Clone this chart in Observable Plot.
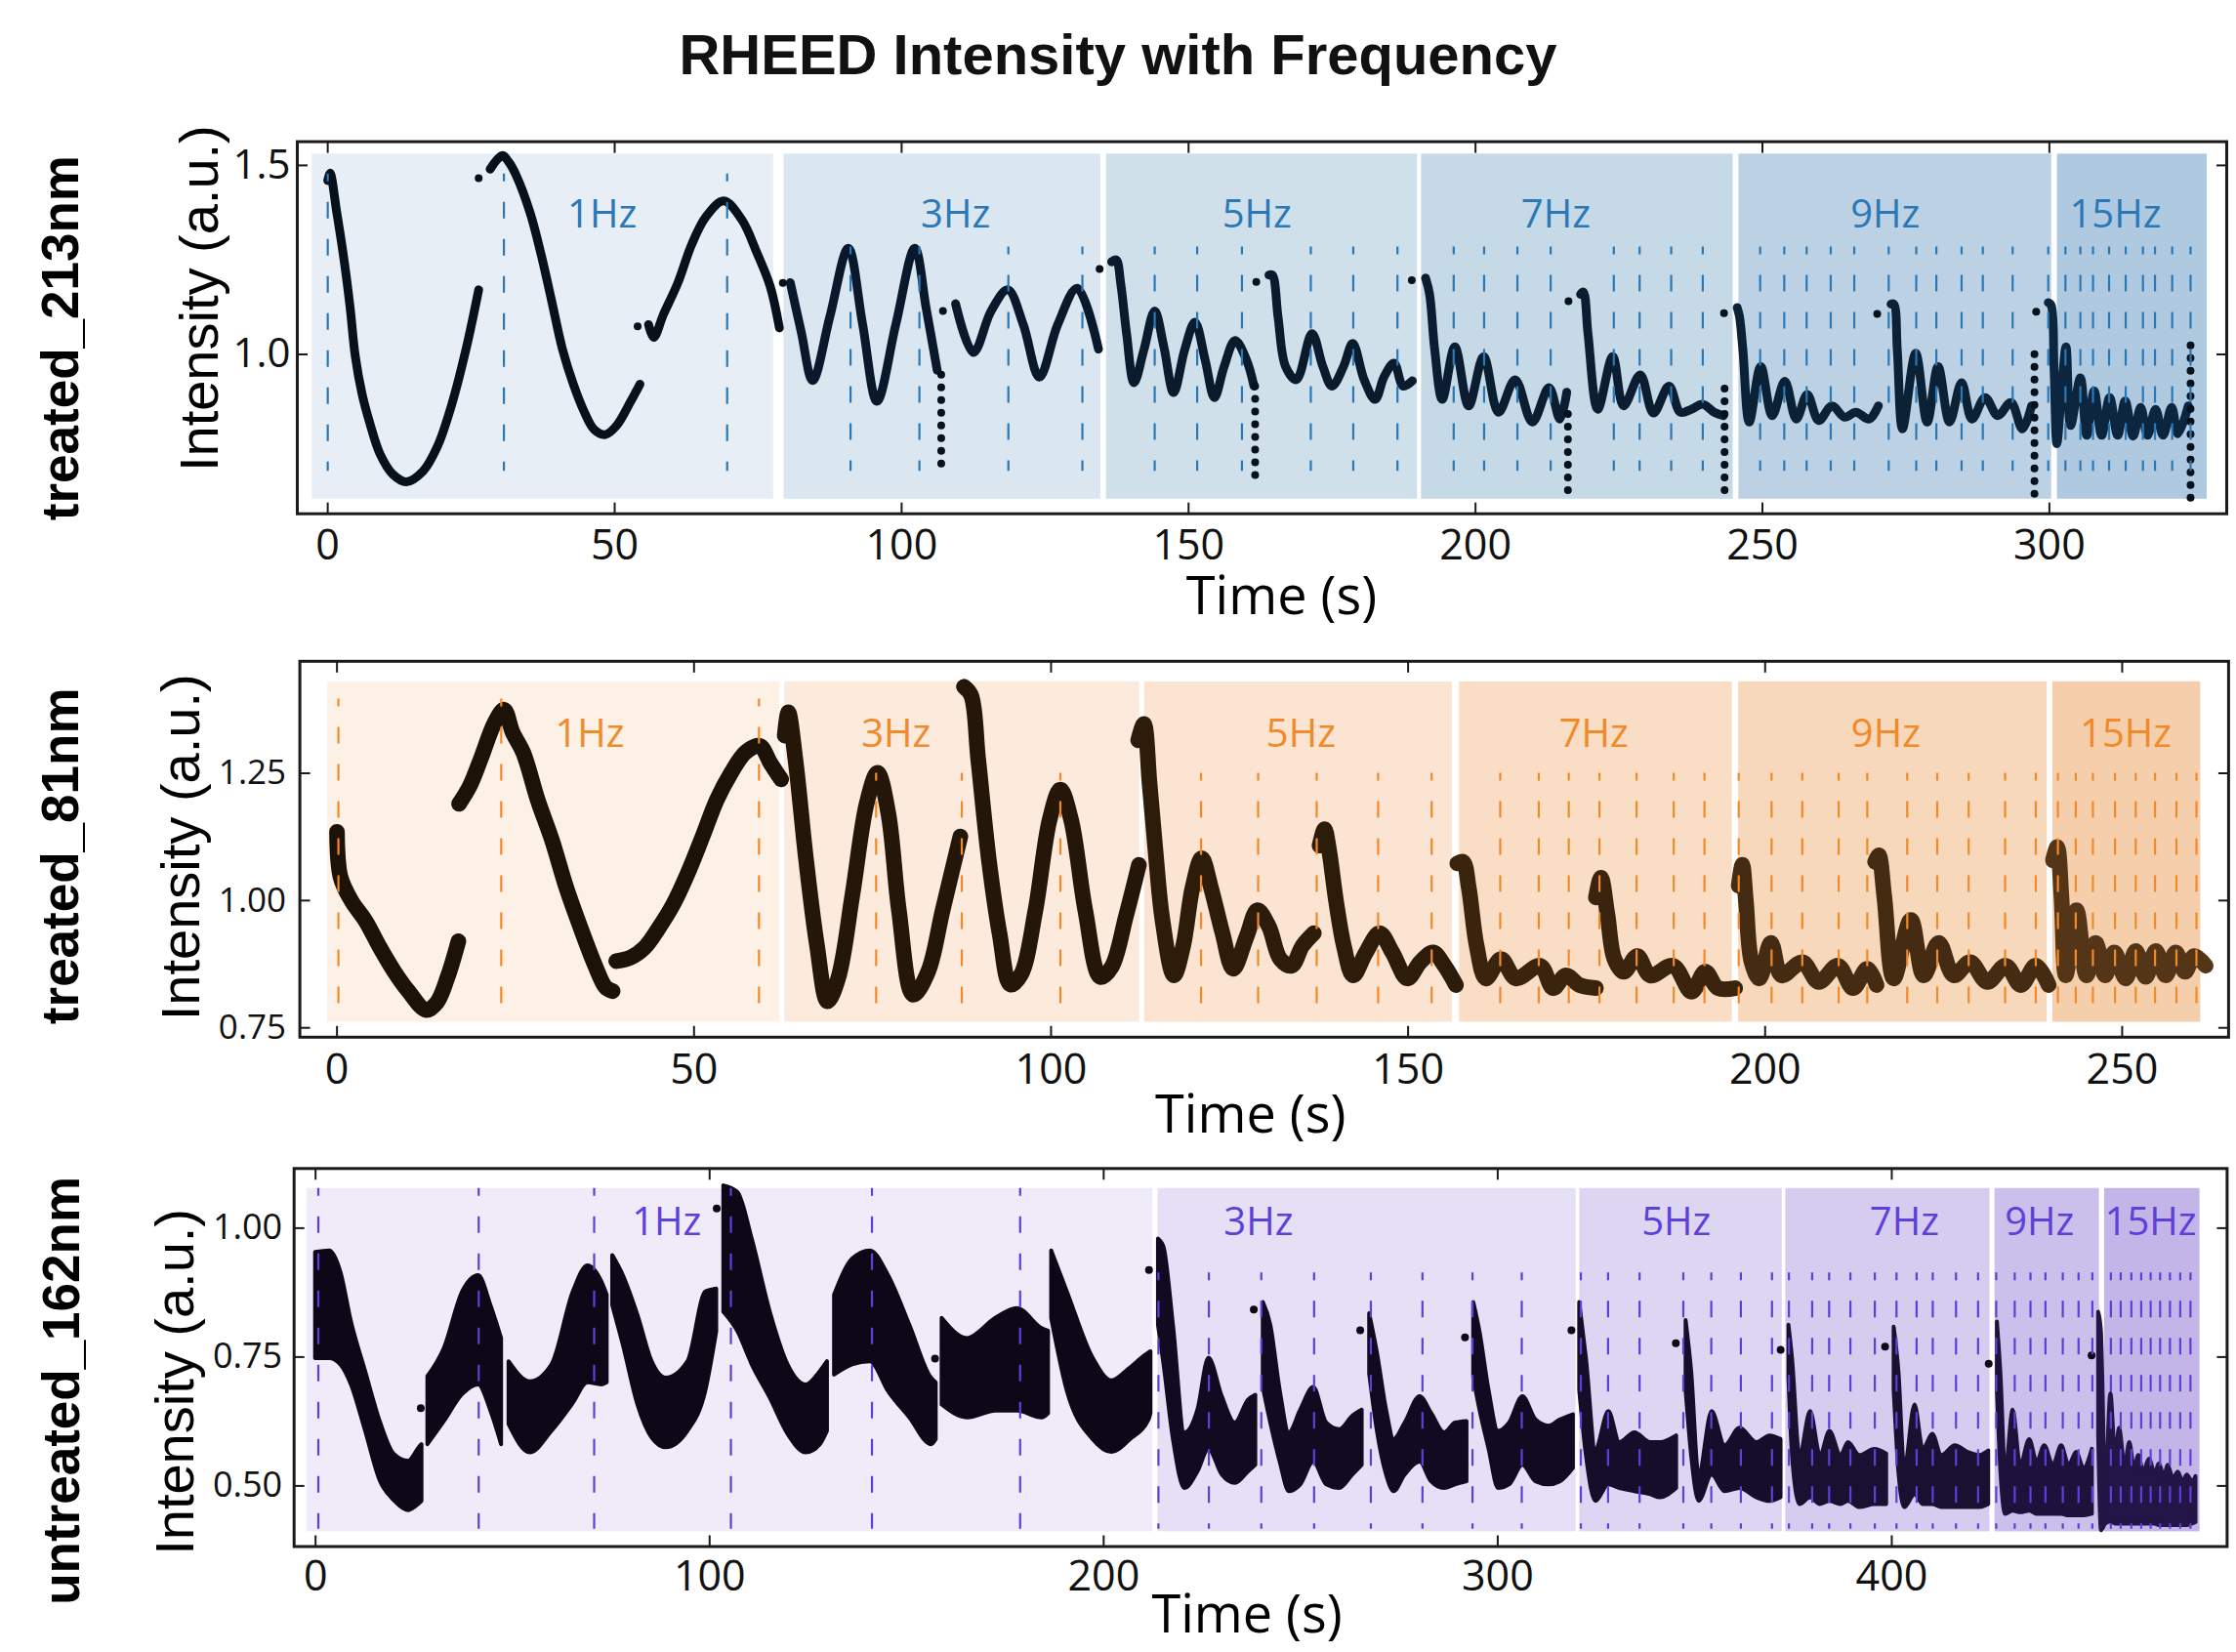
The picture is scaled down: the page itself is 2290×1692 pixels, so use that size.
<!DOCTYPE html>
<html>
<head>
<meta charset="utf-8">
<script src="https://cdn.jsdelivr.net/npm/d3@7"></script>
<script src="https://cdn.jsdelivr.net/npm/@observablehq/plot@0.6"></script>
<style>
  html, body { margin: 0; padding: 0; background: #fff; }
  #wrap { position: relative; width: 2290px; height: 1692px; overflow: hidden; background: #fff; }
  #title { position: absolute; left: 0; top: 27px; width: 2290px; text-align: center;
           font: bold 58px "Liberation Sans", Arial, sans-serif; line-height: 58px; color: #111; }
  .panel { position: absolute; left: 0; }
  .panel svg { display: block; }
</style>
</head>
<body>
<div id="wrap">
  <div id="title">RHEED Intensity with Frequency</div>
</div>
<script>
// ------------------------------------------------------------------
// Shared labels
const freqLabels = ["1Hz", "3Hz", "5Hz", "7Hz", "9Hz", "15Hz"];

// ------------------------------------------------------------------
// treated_213nm
const bandStart213 = [-2.7, 79.5, 135.7, 190.6, 245.9, 301.4];
const bandEnd213   = [77.7, 134.7, 189.9, 244.9, 300.4, 327.5];
const labelT213    = [47.8, 109.4, 161.9, 214.0, 271.4, 311.5];
const dashT213 = [
  [0, 30.7, 69.6],
  [91.1, 103.1, 118.6, 131.5],
  [144.1, 151.5, 159.3, 171.3, 178.7, 186.4],
  [196.2, 201.5, 207.3, 213.1, 224.1, 228.6, 234.1, 239.6],
  [249.6, 253.8, 257.7, 261.9, 266.0, 272.0, 276.8, 280.3, 284.7, 288.4, 293.6, 299.8],
  [302.8, 305.4, 307.6, 310.4, 313.3, 316.3, 318.4, 321.4, 324.6]
];
const dashTop213 = [1.477, 1.284, 1.284, 1.284, 1.284, 1.284];
const segBand213 = [0, 0, 0, 1, 1, 2, 2, 3, 3, 4, 4, 5];
const t213 = [
  [0, 0.4, 1.6, 2.9, 3.9, 4.8, 6.0, 7.3, 9.1, 11.4, 13.7, 16.6, 19.1, 21.6, 24.1, 26.3],
  [28.3, 29.5, 30.5, 31.5, 32.8, 35.3, 37.2, 39.0, 40.9, 42.8, 44.7, 46.5, 48.4, 50.3, 52.8, 54.4],
  [55.9, 56.8, 58.5, 61.0, 63.4, 65.9, 69.0, 72.2, 74.7, 77.1, 78.7],
  [80.6, 82.5, 84.5, 87.5, 90.7, 93.2, 95.7, 99.0, 102.3, 104.3, 106.2],
  [109.4, 112.5, 115.6, 118.5, 121.2, 124.0, 127.2, 130.6, 134.3],
  [136.6, 137.4, 138.2, 139.2, 140.5, 142.2, 144.1, 145.7, 147.4, 149.3, 151.1, 152.9, 154.5, 156.2, 158.1, 160.1, 161.4],
  [164.0, 164.6, 165.6, 166.9, 168.8, 171.5, 173.4, 175.0, 177.0, 178.6, 180.6, 182.5, 184.1, 185.8, 187.4, 189.0],
  [191.3, 192.0, 192.9, 194.2, 196.4, 198.8, 201.4, 204.0, 206.9, 209.9, 212.8, 214.7, 215.9],
  [218.3, 218.8, 219.6, 221.3, 223.9, 225.8, 228.7, 231.0, 233.7, 235.7, 237.6, 239.6, 241.6, 243.2],
  [245.6, 246.0, 246.6, 247.7, 249.7, 251.7, 253.9, 255.9, 257.8, 259.8, 262.1, 264.3, 266.3, 268.6, 270.2],
  [272.4, 272.9, 273.5, 274.4, 276.7, 278.7, 280.6, 282.6, 284.7, 286.5, 288.8, 291.0, 293.3, 295.3, 296.9],
  [299.8, 300.3, 300.8, 301.3, 302.1, 302.9, 303.7, 305.4, 306.5, 307.8, 309.1, 310.5, 311.9, 313.2, 314.6, 315.9, 317.1, 318.5, 319.8, 321.3, 322.4, 324.2]
];
const v213 = [
  [1.46, 1.48, 1.373, 1.244, 1.124, 0.995, 0.894, 0.82, 0.737, 0.682, 0.663, 0.691, 0.756, 0.867, 1.014, 1.171],
  [1.49, 1.515, 1.526, 1.51, 1.475, 1.373, 1.263, 1.143, 1.014, 0.921, 0.848, 0.80, 0.788, 0.811, 0.876, 0.921],
  [1.079, 1.045, 1.106, 1.189, 1.29, 1.364, 1.406, 1.355, 1.272, 1.18, 1.07],
  [1.19, 1.06, 0.931, 1.10, 1.281, 1.08, 0.876, 1.08, 1.281, 1.12, 0.958],
  [1.134, 1.005, 1.115, 1.171, 1.079, 0.94, 1.079, 1.175, 1.014],
  [1.245, 1.25, 1.185, 1.055, 0.925, 1.011, 1.115, 1.02, 0.899, 1.011, 1.085, 0.985, 0.886, 0.968, 1.037, 0.985, 0.916],
  [1.21, 1.21, 1.098, 0.968, 0.933, 1.055, 0.968, 0.916, 0.968, 1.029, 0.933, 0.881, 0.942, 0.977, 0.916, 0.93],
  [1.202, 1.159, 1.011, 0.881, 1.02, 0.864, 0.994, 0.847, 0.933, 0.821, 0.912, 0.829, 0.90],
  [1.159, 1.165, 1.055, 0.855, 0.994, 0.864, 0.946, 0.845, 0.916, 0.847, 0.855, 0.868, 0.847, 0.838],
  [1.124, 1.10, 1.011, 0.821, 0.968, 0.838, 0.929, 0.829, 0.894, 0.825, 0.864, 0.834, 0.847, 0.829, 0.864],
  [1.133, 1.133, 1.011, 0.803, 1.003, 0.821, 0.968, 0.821, 0.925, 0.829, 0.886, 0.838, 0.873, 0.803, 0.864],
  [1.137, 1.13, 0.968, 0.764, 0.90, 1.02, 0.812, 0.938, 0.786, 0.903, 0.786, 0.886, 0.786, 0.877, 0.784, 0.86, 0.786, 0.855, 0.786, 0.86, 0.79, 0.864]
];
const dropT213  = [106.9, 161.6, 216.1, 243.4, 297.4, 324.6];
const dropHi213 = [0.95, 0.93, 0.87, 0.93, 1.0, 1.04];
const dropLo213 = [0.71, 0.68, 0.64, 0.64, 0.63, 0.62];
const isoT213 = [26.3, 54.0, 79.3, 107.2, 134.5, 161.8, 188.9, 216.2, 243.3, 270.0, 297.7];
const isoV213 = [1.466, 1.074, 1.189, 1.115, 1.226, 1.192, 1.196, 1.141, 1.109, 1.107, 1.113];

// ------------------------------------------------------------------
// treated_81nm
const bandStart81 = [-1.3, 62.7, 113.1, 157.2, 196.3, 240.3];
const bandEnd81   = [62.0, 112.4, 156.2, 195.4, 239.5, 261.0];
const labelT81    = [35.4, 78.3, 135.0, 176.0, 216.9, 250.5];
const dashT81 = [
  [0.2, 23.0, 59.1],
  [75.5, 87.5, 101.3],
  [121.0, 129.0, 137.2, 145.8, 153.3],
  [162.9, 168.3, 172.5, 176.8, 182.0, 187.2, 191.5],
  [196.3, 200.9, 205.2, 210.3, 214.3, 219.9, 224.1, 228.5, 233.6, 237.9],
  [241.0, 243.5, 245.9, 249.0, 251.9, 254.6, 257.6, 260.4]
];
const dashTop81 = [1.396, 1.25, 1.25, 1.25, 1.25, 1.25];
const segBand81 = [0, 0, 0, 1, 1, 2, 2, 3, 3, 4, 4, 5];
const t81 = [
  [0, 0.5, 2.0, 4.0, 6.0, 8.0, 10.0, 12.5, 14.0, 15.5, 17.0],
  [17.1, 18.6, 20.1, 22.1, 23.4, 24.6, 26.1, 28.1, 30.1, 32.1, 34.1, 36.1, 37.6, 38.6],
  [39.1, 41.1, 43.1, 45.1, 47.1, 49.1, 51.2, 53.2, 55.2, 57.2, 59.2, 60.7, 62.2],
  [62.7, 63.2, 64.2, 65.7, 67.2, 68.7, 70.2, 72.2, 74.2, 75.7, 77.2, 78.7, 80.7, 82.8, 84.8, 87.3],
  [87.8, 88.8, 89.8, 91.3, 92.8, 94.3, 95.8, 97.8, 99.8, 101.3, 102.8, 104.8, 106.9, 108.5, 110.5, 112.3],
  [112.2, 113.0, 113.8, 114.6, 115.6, 117.2, 118.5, 119.8, 121.1, 122.4, 124.0, 125.5, 127.4, 128.9, 130.5, 132.1, 133.7, 135.2, 136.8],
  [137.6, 138.3, 138.9, 139.9, 141.0, 142.3, 144.1, 146.0, 147.8, 149.9, 151.7, 153.5, 155.1, 156.7],
  [156.9, 157.7, 158.5, 159.6, 160.9, 163.0, 165.1, 168.5, 170.3, 172.1, 174.0, 176.3],
  [176.3, 177.0, 177.9, 178.9, 180.2, 182.1, 183.9, 187.1, 189.7, 191.6, 193.4, 195.8],
  [196.3, 196.8, 197.3, 198.1, 199.2, 200.8, 202.3, 205.2, 207.5, 210.2, 212.3, 214.3, 215.6],
  [215.4, 215.9, 216.7, 218.0, 220.4, 222.2, 224.3, 226.4, 228.7, 231.1, 233.7, 235.8, 237.9, 239.7],
  [240.3, 240.9, 241.5, 242.1, 243.6, 245.0, 246.3, 247.6, 248.9, 250.5, 251.9, 253.3, 254.7, 256.1, 257.5, 258.8, 260.1, 261.7]
];
const v81 = [
  [1.135, 1.046, 1.0, 0.96, 0.908, 0.861, 0.822, 0.785, 0.80, 0.85, 0.92],
  [1.19, 1.225, 1.277, 1.35, 1.375, 1.33, 1.29, 1.198, 1.119, 1.026, 0.947, 0.874, 0.83, 0.822],
  [0.881, 0.888, 0.908, 0.947, 0.993, 1.053, 1.126, 1.198, 1.251, 1.291, 1.304, 1.27, 1.238],
  [1.324, 1.37, 1.277, 1.079, 0.914, 0.802, 0.848, 1.013, 1.192, 1.251, 1.172, 0.98, 0.815, 0.861, 0.98, 1.126],
  [1.42, 1.403, 1.277, 1.079, 0.934, 0.835, 0.855, 0.98, 1.159, 1.218, 1.159, 0.98, 0.85, 0.87, 0.97, 1.07],
  [1.315, 1.347, 1.229, 1.102, 0.962, 0.853, 0.911, 1.025, 1.083, 1.025, 0.936, 0.866, 0.93, 0.981, 0.949, 0.885, 0.872, 0.911, 0.936],
  [1.108, 1.14, 1.102, 1.0, 0.911, 0.853, 0.898, 0.936, 0.898, 0.847, 0.879, 0.898, 0.872, 0.834],
  [1.073, 1.076, 1.025, 0.911, 0.847, 0.885, 0.847, 0.872, 0.828, 0.853, 0.834, 0.828],
  [1.006, 1.045, 0.974, 0.885, 0.86, 0.891, 0.853, 0.872, 0.821, 0.86, 0.828, 0.828],
  [1.029, 1.07, 1.0, 0.879, 0.847, 0.917, 0.853, 0.879, 0.84, 0.872, 0.828, 0.866, 0.834],
  [1.076, 1.089, 1.006, 0.847, 0.962, 0.853, 0.917, 0.853, 0.879, 0.84, 0.872, 0.834, 0.872, 0.834],
  [1.079, 1.105, 1.006, 0.853, 0.981, 0.853, 0.917, 0.853, 0.898, 0.847, 0.901, 0.85, 0.901, 0.853, 0.898, 0.86, 0.891, 0.872]
];

// ------------------------------------------------------------------
// untreated_162nm (thick noisy band: lower / upper edge)
const bandStart162 = [-2.2, 213.8, 320.8, 373.1, 426.2, 454.0];
const bandEnd162   = [212.5, 319.9, 372.2, 424.9, 452.7, 478.2];
const labelT162    = [89.1, 239.3, 345.3, 403.2, 437.5, 465.7];
const dashT162 = [
  [0.7, 41.4, 70.7, 105.4, 141.2, 178.8],
  [213.9, 226.7, 240.0, 253.4, 267.8, 280.9, 293.6, 306.1],
  [321.1, 328.0, 336.0, 347.1, 354.2, 361.7, 369.6],
  [373.9, 379.8, 384.1, 389.5, 395.7, 401.2, 406.3, 410.4, 416.3, 421.9],
  [426.5, 431.2, 435.2, 439.0, 443.4, 447.4, 450.9],
  [455.6, 458.1, 460.8, 463.3, 465.7, 468.1, 470.6, 473.2, 475.8]
];
const dashTop162 = [1.077, 0.913, 0.913, 0.913, 0.913, 0.913];
const segBand162 = [0, 0, 0, 0, 0, 0, 0, 0, 1, 1, 1, 1, 2, 2, 3, 3, 4, 5];
const t162 = [
  [0, 3.6, 6.4, 9.1, 12.7, 16.4, 20.0, 23.6, 26.3, 27.0],
  [28.5, 32.7, 37.3, 41.4, 44.5, 47.2],
  [49.1, 54.5, 60.0, 65.4, 69.1, 72.7, 74.0],
  [75.4, 78.1, 81.8, 85.4, 89.0, 94.5, 99.0, 101.8],
  [103.6, 107.2, 110.8, 115.4, 119.9, 124.5, 128.1, 129.9],
  [131.7, 136.3, 140.8, 145.4, 150.8, 156.3, 157.5],
  [159.0, 165.4, 172.6, 178.1, 184.4, 186.0],
  [186.8, 190.8, 197.3, 202.1, 206.8, 211.5, 212.0],
  [213.9, 215.3, 217.7, 220.6, 223.9, 226.7, 230.1, 233.4, 236.7, 238.6],
  [240.5, 242.4, 244.8, 247.1, 250.0, 253.3, 256.6, 259.9, 263.2, 265.6],
  [267.5, 269.4, 271.8, 273.7, 276.5, 280.3, 283.2, 286.5, 289.3, 292.2],
  [293.9, 295.5, 297.8, 300.2, 303.0, 306.4, 309.7, 313.0, 315.9, 319.2],
  [320.8, 322.5, 324.9, 328.2, 331.0, 334.8, 338.8, 341.3, 345.4],
  [347.8, 349.2, 351.1, 354.4, 357.7, 361.5, 365.8, 369.1, 371.9],
  [373.9, 374.8, 376.7, 379.4, 381.9, 384.3, 387.1, 389.0, 391.9, 395.7, 398.7],
  [400.6, 401.8, 403.3, 405.9, 408.0, 410.4, 412.7, 416.1, 419.4, 422.2, 424.6],
  [426.8, 427.7, 428.9, 430.8, 432.7, 435.0, 436.9, 438.8, 441.0, 443.1, 445.0, 446.9, 448.8, 450.9],
  [452.5, 453.2, 454.3, 455.6, 456.8, 457.8, 459.2, 460.4, 461.6, 462.7, 463.9, 465.4, 466.8, 467.9, 469.2, 470.1, 471.5, 472.7, 473.9, 475.0, 476.3, 477.2]
];
const hi162 = [
  [0.953, 0.956, 0.915, 0.818, 0.722, 0.625, 0.561, 0.548, 0.574, 0.58],
  [0.712, 0.767, 0.876, 0.908, 0.85, 0.786],
  [0.741, 0.702, 0.735, 0.876, 0.927, 0.895, 0.87],
  [0.947, 0.908, 0.831, 0.741, 0.709, 0.741, 0.876, 0.882],
  [1.082, 1.069, 0.979, 0.837, 0.735, 0.696, 0.722, 0.741],
  [0.87, 0.94, 0.956, 0.908, 0.812, 0.709, 0.70],
  [0.825, 0.786, 0.825, 0.844, 0.805, 0.80],
  [0.956, 0.876, 0.748, 0.704, 0.729, 0.758, 0.76],
  [0.979, 0.963, 0.812, 0.603, 0.647, 0.748, 0.673, 0.622, 0.666, 0.676],
  [0.856, 0.812, 0.685, 0.603, 0.647, 0.691, 0.622, 0.609, 0.635, 0.647],
  [0.834, 0.761, 0.647, 0.59, 0.622, 0.673, 0.641, 0.603, 0.622, 0.625],
  [0.856, 0.799, 0.685, 0.606, 0.622, 0.673, 0.628, 0.616, 0.628, 0.638],
  [0.856, 0.748, 0.571, 0.644, 0.584, 0.603, 0.584, 0.584, 0.597],
  [0.821, 0.723, 0.521, 0.644, 0.578, 0.612, 0.584, 0.597, 0.59],
  [0.812, 0.748, 0.559, 0.644, 0.559, 0.606, 0.559, 0.584, 0.559, 0.571, 0.562],
  [0.808, 0.723, 0.534, 0.657, 0.571, 0.60, 0.559, 0.578, 0.565, 0.559, 0.568],
  [0.818, 0.717, 0.527, 0.647, 0.54, 0.59, 0.546, 0.578, 0.54, 0.578, 0.54, 0.565, 0.534, 0.571],
  [0.837, 0.80, 0.495, 0.679, 0.559, 0.612, 0.54, 0.584, 0.534, 0.559, 0.527, 0.552, 0.524, 0.543, 0.518, 0.54, 0.514, 0.527, 0.508, 0.521, 0.508, 0.518]
];
const lo162 = [
  [0.747, 0.747, 0.735, 0.696, 0.606, 0.51, 0.471, 0.452, 0.465, 0.47],
  [0.58, 0.625, 0.677, 0.696, 0.645, 0.58],
  [0.619, 0.564, 0.606, 0.66, 0.70, 0.696, 0.70],
  [0.85, 0.773, 0.657, 0.593, 0.574, 0.606, 0.683, 0.799],
  [0.837, 0.799, 0.735, 0.67, 0.60, 0.564, 0.58, 0.606],
  [0.715, 0.735, 0.741, 0.683, 0.632, 0.58, 0.59],
  [0.657, 0.632, 0.645, 0.645, 0.632, 0.64],
  [0.825, 0.683, 0.59, 0.565, 0.59, 0.628, 0.64],
  [0.812, 0.736, 0.59, 0.495, 0.527, 0.571, 0.521, 0.505, 0.527, 0.54],
  [0.691, 0.622, 0.546, 0.489, 0.502, 0.546, 0.502, 0.495, 0.521, 0.54],
  [0.717, 0.609, 0.521, 0.489, 0.521, 0.546, 0.508, 0.495, 0.502, 0.508],
  [0.71, 0.647, 0.571, 0.495, 0.502, 0.54, 0.508, 0.502, 0.508, 0.534],
  [0.685, 0.559, 0.47, 0.502, 0.495, 0.489, 0.483, 0.477, 0.495],
  [0.685, 0.559, 0.47, 0.521, 0.489, 0.495, 0.477, 0.47, 0.477],
  [0.71, 0.559, 0.464, 0.477, 0.464, 0.47, 0.464, 0.47, 0.458, 0.464, 0.464],
  [0.685, 0.527, 0.458, 0.483, 0.464, 0.464, 0.458, 0.458, 0.458, 0.458, 0.464],
  [0.685, 0.527, 0.445, 0.451, 0.448, 0.451, 0.445, 0.445, 0.445, 0.445, 0.442, 0.442, 0.442, 0.445],
  [0.60, 0.413, 0.426, 0.43, 0.426, 0.426, 0.426, 0.426, 0.426, 0.426, 0.426, 0.426, 0.426, 0.423, 0.423, 0.423, 0.423, 0.423, 0.423, 0.423, 0.426, 0.429]
];
const isoT162 = [26.7, 101.8, 157.2, 211.5, 238.1, 265.1, 291.7, 318.7, 345.2, 371.8, 398.3, 424.6, 450.7];
const isoV162 = [0.651, 1.038, 0.747, 0.919, 0.842, 0.802, 0.788, 0.802, 0.777, 0.764, 0.77, 0.737, 0.753];

// ------------------------------------------------------------------
// Styling / layout (not data)
const panels = [
  {
    name: "treated_213nm", top: 100, height: 540,
    marginTop: 44.6, marginBottom: 114.3, marginLeft: 304, marginRight: 10,
    xDomain: [-5.3, 330.9], yDomain: [0.5785, 1.5628],
    xTicks: [0, 50, 100, 150, 200, 250, 300], yTicks: [1.0, 1.5], yFmt: d3.format(".1f"),
    yFont: 42, xPad: 16, yPad: 7,
    regionLo: 0.617, regionHi: 1.53, dashLo: 0.691, labelV: 1.37,
    accent: "#2a78b6",
    bandFill: ["#e7eef6", "#dae6f0", "#d0e0eb", "#c6d9e7", "#bcd2e4", "#afcae0"],
    curveCol: ["#07111b", "#09182a", "#0a1b2d", "#0b1e31", "#0b2236", "#0c2640"],
    bandStart: bandStart213, bandEnd: bandEnd213, labelT: labelT213,
    dashT: dashT213, dashTop: dashTop213, segBand: segBand213,
    t: t213, v: v213, lineWidth: 9,
    drops: dropT213.map((t, i) => ({t, lo: dropLo213[i], hi: dropHi213[i]})),
    iso: isoT213.map((t, i) => ({t, v: isoV213[i]})),
    ylabDx: -99.5, ylabDy: -30, rowDx: -241, rowDy: 10.5, xlabDx: 20, xlabDy: 86
  },
  {
    name: "treated_81nm", top: 640, height: 530,
    marginTop: 36.8, marginBottom: 108.2, marginLeft: 306.6, marginRight: 8.1,
    xDomain: [-5.2, 264.9], yDomain: [0.7316, 1.470],
    xTicks: [0, 50, 100, 150, 200, 250], yTicks: [0.75, 1.0, 1.25], yFmt: d3.format(".2f"),
    yFont: 35, xPad: 17, yPad: 14,
    regionLo: 0.761, regionHi: 1.4296, dashLo: 0.783, labelV: 1.327,
    accent: "#f08a2a",
    bandFill: ["#fdf1e6", "#fcebdc", "#fbe4d2", "#f9ddc5", "#f8d8bb", "#f5cfab"],
    curveCol: ["#1c1208", "#241609", "#2e1c0b", "#3a240e", "#452b11", "#553518"],
    bandStart: bandStart81, bandEnd: bandEnd81, labelT: labelT81,
    dashT: dashT81, dashTop: dashTop81, segBand: segBand81,
    t: t81, v: v81, lineWidth: 16,
    drops: [], iso: [],
    ylabDx: -120.6, ylabDy: -2, rowDx: -243.6, rowDy: 7, xlabDx: -14, xlabDy: 80
  },
  {
    name: "untreated_162nm", top: 1170, height: 522,
    marginTop: 26.3, marginBottom: 108.5, marginLeft: 300.7, marginRight: 9.6,
    xDomain: [-5.45, 485.1], yDomain: [0.3824, 1.1157],
    xTicks: [0, 100, 200, 300, 400], yTicks: [0.5, 0.75, 1.0], yFmt: d3.format(".2f"),
    yFont: 36, xPad: 14, yPad: 12,
    regionLo: 0.411, regionHi: 1.077, dashLo: 0.416, labelV: 1.01,
    accent: "#5e3fd8",
    bandFill: ["#efebf9", "#e5e0f6", "#ddd6f3", "#d5ccef", "#cbc0eb", "#c3b5e7"],
    curveCol: ["#0c0817", "#110b21", "#150d29", "#1a1032", "#1e123c", "#231546"],
    bandStart: bandStart162, bandEnd: bandEnd162, labelT: labelT162,
    dashT: dashT162, dashTop: dashTop162, segBand: segBand162,
    t: t162, lo: lo162, hi: hi162,
    drops: [],
    iso: isoT162.map((t, i) => ({t, v: isoV162[i]})),
    ylabDx: -120.7, ylabDy: 25, rowDx: -236.7, rowDy: 34, xlabDx: -14, xlabDy: 71
  }
];

const SANS = "'Liberation Sans', Arial, Helvetica, sans-serif";
const OPEN = "'Open Sans', 'Noto Sans', sans-serif";
const INK = "#1a1a1a";

function buildPanel(c) {
  const bands = c.bandStart.map((s, i) => ({
    s, e: c.bandEnd[i], fill: c.bandFill[i], lab: freqLabels[i], lt: c.labelT[i]
  }));
  const dashes = c.dashT.flatMap((arr, b) => arr.map(t => ({t, top: c.dashTop[b]})));
  const pts = c.t.flatMap((ts, s) => ts.map((t, i) => ({
    t, seg: s, col: c.curveCol[c.segBand[s]],
    v: c.v ? c.v[s][i] : null,
    lo: c.lo ? c.lo[s][i] : null,
    hi: c.hi ? c.hi[s][i] : null
  })));
  const dotCol = c.curveCol[0];

  const curveMarks = c.lo
    ? [Plot.areaY(pts, {x: "t", y1: "lo", y2: "hi", z: "seg", fill: "col", stroke: "col",
                        strokeWidth: 4, strokeLinejoin: "round", curve: "monotone-x"})]
    : [Plot.line(pts, {x: "t", y: "v", z: "seg", stroke: "col", strokeWidth: c.lineWidth,
                       curve: "catmull-rom", strokeLinecap: "round", strokeLinejoin: "round"})];

  return Plot.plot({
    width: 2290, height: c.height,
    marginTop: c.marginTop, marginBottom: c.marginBottom,
    marginLeft: c.marginLeft, marginRight: c.marginRight,
    x: {domain: c.xDomain},
    y: {domain: c.yDomain},
    color: {type: "identity"},
    style: {fontFamily: OPEN, background: "transparent", color: INK, overflow: "visible"},
    marks: [
      Plot.rect(bands, {x1: "s", x2: "e", y1: c.regionLo, y2: c.regionHi, fill: "fill"}),
      ...curveMarks,
      Plot.ruleX(c.drops, {x: "t", y1: "lo", y2: "hi", stroke: dotCol, strokeWidth: 8,
                           strokeDasharray: "0,13", strokeLinecap: "round"}),
      Plot.dot(c.iso, {x: "t", y: "v", r: 4, fill: dotCol, stroke: null}),
      Plot.ruleX(dashes, {x: "t", y1: "top", y2: c.dashLo, stroke: c.accent,
                          strokeWidth: 2.2, strokeDasharray: "17,21", strokeDashoffset: 9}),
      Plot.text(bands, {x: "lt", y: c.labelV, text: "lab", fill: c.accent,
                        fontSize: 40, fontFamily: OPEN}),
      Plot.frame({stroke: INK, strokeWidth: 3}),
      // tick labels
      Plot.axisX(c.xTicks, {anchor: "bottom", tickSize: 0, tickPadding: c.xPad,
                            fontSize: 43, fontFamily: OPEN, fill: "#111", label: null}),
      Plot.axisY(c.yTicks, {anchor: "left", tickSize: 0, tickPadding: c.yPad, tickFormat: c.yFmt,
                            fontSize: c.yFont, fontFamily: OPEN, fill: "#111", label: null}),
      // inward ticks on all four sides
      Plot.axisX(c.xTicks, {anchor: "bottom", tickSize: 11, dy: -11, fill: "none", stroke: INK, strokeWidth: 2, label: null}),
      Plot.axisX(c.xTicks, {anchor: "top", tickSize: 11, dy: 11, fill: "none", stroke: INK, strokeWidth: 2, label: null}),
      Plot.axisY(c.yTicks, {anchor: "left", tickSize: 11, dx: 11, fill: "none", stroke: INK, strokeWidth: 2, label: null}),
      Plot.axisY(c.yTicks, {anchor: "right", tickSize: 11, dx: -11, fill: "none", stroke: INK, strokeWidth: 2, label: null}),
      // axis titles and row label
      Plot.text(["Intensity (a.u.)"], {frameAnchor: "left", dx: c.ylabDx, dy: c.ylabDy, rotate: -90,
                                       textAnchor: "middle", lineAnchor: "middle",
                                       fontSize: 56, fontFamily: SANS, fill: "#000"}),
      Plot.text([c.name], {frameAnchor: "left", dx: c.rowDx, dy: c.rowDy, rotate: -90,
                           textAnchor: "middle", lineAnchor: "middle",
                           fontSize: 53, fontWeight: "bold", fontFamily: SANS, fill: "#000"}),
      Plot.text(["Time (s)"], {frameAnchor: "bottom", dx: c.xlabDx, dy: c.xlabDy,
                               textAnchor: "middle", lineAnchor: "middle",
                               fontSize: 54, fontFamily: OPEN, fill: "#000"})
    ]
  });
}

const wrap = document.getElementById("wrap");
for (const c of panels) {
  const div = document.createElement("div");
  div.className = "panel";
  div.style.top = c.top + "px";
  div.appendChild(buildPanel(c));
  wrap.appendChild(div);
}
</script>
</body>
</html>
